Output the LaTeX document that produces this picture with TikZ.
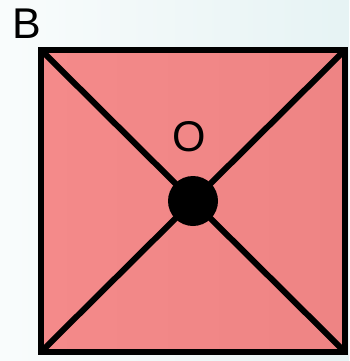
\documentclass[tikz,border=0pt]{standalone}
\usepackage{fontspec}
\setmainfont{Liberation Sans}
\begin{document}
\begin{tikzpicture}[x=1pt, y=-1pt, line join=miter]
    % Gaya dasar
    \tikzset{
      tepi/.style={line width=6pt, black},
      huruf/.style={font=\fontsize{43}{43}\selectfont, anchor=base, inner sep=0pt}
    }
    
    % Latar belakang dengan gradasi lembut
    \shade[shading angle=135, left color={rgb,255:red,249;green,252;blue,252},
      right color={rgb,255:red,230;green,243;blue,244}] (0,0) rectangle (349,361);
    \useasboundingbox (0,0) rectangle (349,361);
    
    % Titik sudut persegi
    \coordinate (A) at (41,50);
    \coordinate (C) at (345,50);
    \coordinate (D) at (345,352);
    \coordinate (E) at (41,352);
    
    % Persegi merah
    \shade[left color={rgb,255:red,244;green,138;blue,138}, right color={rgb,255:red,238;green,132;blue,132}]
      (A) -- (C) -- (D) -- (E) -- cycle;
    
    % Diagonal
    \draw[tepi] (A) -- (D);
    \draw[tepi] (C) -- (E);
    \draw[tepi] (A) -- (C) -- (D) -- (E) -- cycle;
    
    % Titik pusat O
    \node[circle, fill=black, minimum size=50pt, inner sep=0pt] (pusat) at (193,201) {};
    \node[huruf] (labelO) at (189,151) {O};
    \node[huruf] (labelB) at (26.5,38) {B};
  \end{tikzpicture}
\end{document}
